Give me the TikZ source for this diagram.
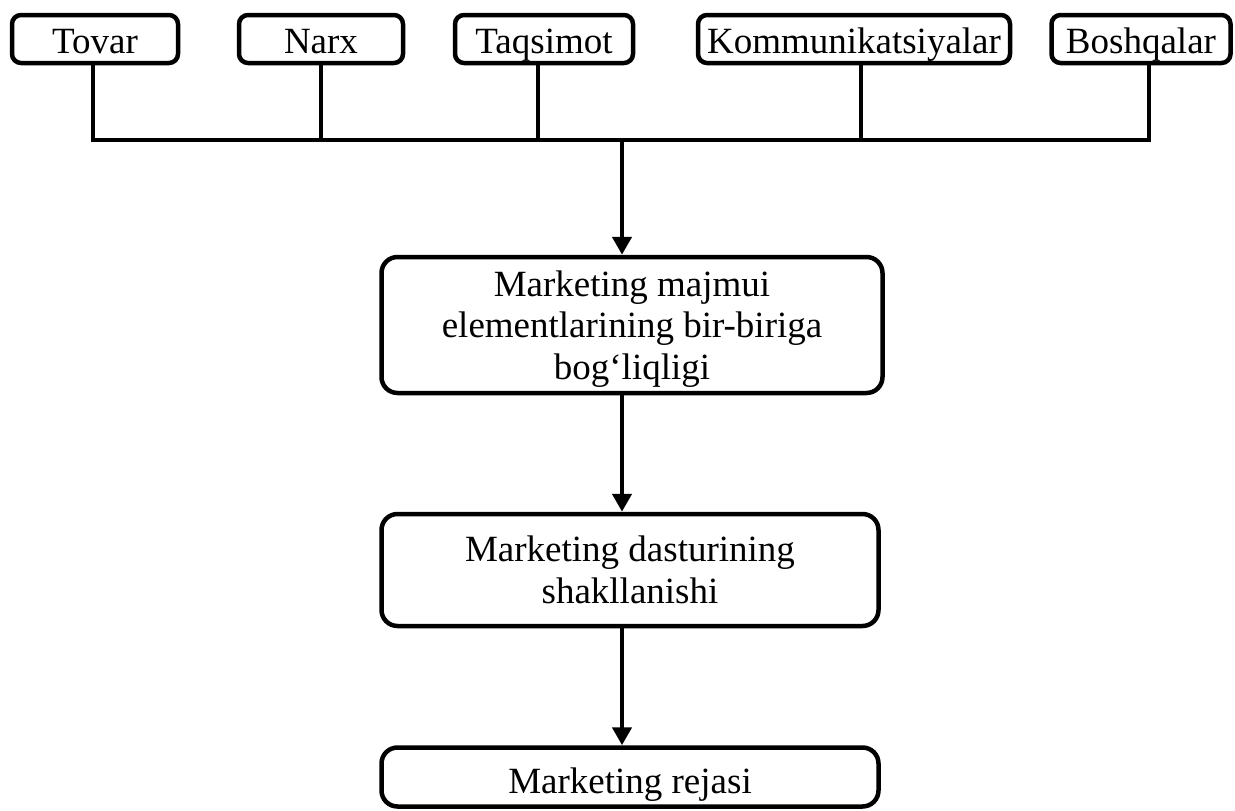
\documentclass[tikz,border=0pt]{standalone}
\usepackage{fontspec}
\setmainfont{Liberation Serif}
\usetikzlibrary{arrows.meta}
\begin{document}
\begin{tikzpicture}[x=1pt,y=-1pt,
  every node/.style={font=\fontsize{37}{41.5}\selectfont},
  topbox/.style={draw, line width=4.5pt, rounded corners=9pt, inner sep=0pt,
    minimum height=48pt, text height=28pt, text depth=0pt, align=center},
  mainbox/.style={draw, line width=4.5pt, rounded corners=16pt, inner sep=0pt,
    align=center},
  wire/.style={line width=4.5pt},
  flow/.style={line width=4.5pt, -{Triangle[length=18pt,width=19pt]}}]
  \useasboundingbox (0,0) rectangle (1235,811);

  % marketing mix elements
  \node[topbox, minimum width=166pt] (tovar) at (95,39)   {Tovar};
  \node[topbox, minimum width=164pt] (narx)  at (321,39)  {Narx};
  \node[topbox, minimum width=178pt] (taq)   at (544,39)  {Taqsimot};
  \node[topbox, minimum width=312pt] (komm)  at (854,39)  {Kommunikatsiyalar};
  \node[topbox, minimum width=179pt] (bosh)  at (1141,39) {Boshqalar};

  % planning chain
  \node[mainbox, minimum width=501pt, minimum height=136pt] (b1) at (632,325)
    {\rule{0pt}{33pt}Marketing majmui\\elementlarining bir-biriga\\bog‘liqligi};
  \node[mainbox, minimum width=497pt, minimum height=112pt] (b2) at (630,570)
    {Marketing dasturining\\shakllanishi};
  \node[mainbox, minimum width=497pt, minimum height=59pt,
    text height=33pt, text depth=0pt] (b3) at (630,777)
    {Marketing rejasi};

  \coordinate (hub) at (622,140);

  % collecting bus
  \draw[wire] ([xshift=-2pt]tovar.south) |- (hub) -| ([xshift=8pt]bosh.south);
  \draw[wire] (narx.south) -- (narx.south |- hub);
  \draw[wire] ([xshift=-6pt]taq.south) -- ([xshift=-6pt]taq.south |- hub);
  \draw[wire] ([xshift=7pt]komm.south) -- ([xshift=7pt]komm.south |- hub);

  % flow arrows
  \draw[flow] (hub) -- (b1.north -| hub);
  \draw[flow] (b1.south -| hub) -- (b2.north -| hub);
  \draw[flow] (b2.south -| hub) -- (b3.north -| hub);
\end{tikzpicture}
\end{document}
